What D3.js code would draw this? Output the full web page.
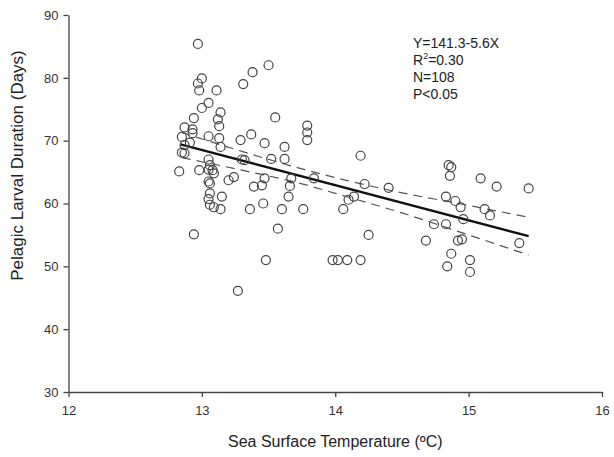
<!DOCTYPE html>
<html lang='en'>
<head>
  <meta charset='UTF-8'>
  <title>Pelagic Larval Duration vs SST</title>
  <style>
  body { margin: 0; background: #fff; }
  svg { display: block; font-family: 'Liberation Sans', Arial, sans-serif; }
  .axis path, .axis line { stroke: #444; stroke-width: 1.3px; }
  .axis text { font-size: 13px; fill: #333; }
  .label { font-size: 16px; fill: #222; }
  .ylabel { font-size: 17px; fill: #222; }
  .stats { font-size: 14px; fill: #222; }
  .dot { fill: none; stroke: #444; stroke-width: 1.2px; }
  .fit { fill: none; stroke: #111; stroke-width: 2.4px; }
  .band { fill: none; stroke: #555; stroke-width: 1.2px; stroke-dasharray: 9 6; }
  </style>
  <script src='https://d3js.org/d3.v7.min.js'></script>
</head>
<body>
  <script>

  // data: sea surface temperature (C) and PLD (days)
  var sst = [
    12.83, 12.85, 12.87, 12.87, 12.91, 12.85, 12.93, 12.87, 12.93, 12.94,
    12.94, 12.97, 12.97, 13.00, 12.98, 13.00, 13.05, 13.11, 13.14, 13.12,
    13.13, 13.05, 13.13, 13.14, 12.98, 13.05, 13.06, 13.05, 13.08, 13.09,
    13.05, 13.06, 13.06, 13.05, 13.15, 13.06, 13.09, 13.14, 13.20, 13.24,
    13.30, 13.32, 13.27, 13.31, 13.38, 13.50, 13.29, 13.37, 13.47, 13.62,
    13.55, 13.79, 13.79, 13.79, 13.52, 13.62, 13.47, 13.45, 13.39, 13.67,
    13.66, 13.84, 13.65, 13.36, 13.46, 13.60, 13.76, 13.57, 13.48, 14.06,
    14.10, 14.14, 14.19, 14.22, 14.40, 14.25, 13.98, 14.02, 14.09, 14.19,
    14.74, 14.68, 14.83, 14.85, 14.87, 14.86, 15.09, 15.21, 15.45, 14.83,
    14.90, 14.94, 14.96, 15.12, 15.16, 14.92, 14.95, 14.87, 15.01, 14.84,
    15.01, 15.38
  ];
  var pld = [
    65.1, 68.1, 68.0, 69.3, 69.7, 70.6, 71.2, 72.1, 71.8, 73.6,
    55.1, 85.4, 79.1, 79.9, 78.0, 75.2, 76.0, 78.0, 74.5, 73.4,
    72.3, 70.7, 70.4, 69.0, 65.3, 67.0, 66.1, 65.4, 65.3, 64.8,
    63.5, 61.6, 63.2, 60.7, 61.1, 59.8, 59.4, 59.1, 63.7, 64.2,
    67.0, 66.9, 46.1, 79.0, 80.9, 82.0, 70.1, 71.0, 69.6, 69.0,
    73.7, 72.4, 71.3, 70.1, 67.1, 67.1, 64.0, 62.9, 62.7, 64.0,
    62.8, 64.0, 61.1, 59.1, 60.0, 59.1, 59.1, 56.0, 51.0, 59.1,
    60.6, 61.1, 67.6, 63.1, 62.5, 55.0, 51.0, 51.0, 51.0, 51.0,
    56.7, 54.1, 56.7, 66.1, 65.8, 64.4, 64.0, 62.7, 62.4, 61.1,
    60.4, 59.4, 57.5, 59.1, 58.1, 54.1, 54.3, 52.0, 51.0, 50.0,
    49.1, 53.7
  ];

  // regression line ends and 95% confidence band
  var fitX = [12.84, 15.45];
  var fitY = [69.4, 54.8];
  var bandX = [12.85, 13.3, 13.7, 14.1, 14.5, 14.9, 15.45];
  var bandUpper = [71.3, 68.3, 65.8, 63.6, 61.7, 60.1, 57.8];
  var bandLower = [67.3, 65.3, 63.4, 61.0, 58.5, 55.7, 51.8];

  var xTicks = [12, 13, 14, 15, 16];
  var yTicks = [30, 40, 50, 60, 70, 80, 90];
  var statsLines = ['Y=141.3-5.6X', 'R2=0.30', 'N=108', 'P<0.05'];

  var svgWidth = 614;
  var svgHeight = 457;
  var margin = { top: 15, right: 12, bottom: 65, left: 68.5 };
  var width = svgWidth - margin.left - margin.right;
  var height = svgHeight - margin.top - margin.bottom;

  var svg = d3.select('body').append('svg')
    .attr('width', svgWidth)
    .attr('height', svgHeight);

  var g = svg.append('g').attr('transform', 'translate(' + margin.left + ',' + margin.top + ')');

  var x = d3.scaleLinear().domain([12, 16]).range([0, width]);
  var y = d3.scaleLinear().domain([30, 90]).range([height, 0]);

  // axes

  g.append('g')
    .attr('class', 'axis')
    .attr('transform', 'translate(0,' + height + ')')
    .call(d3.axisBottom(x).tickValues(xTicks).tickFormat(d3.format('d'))
      .tickSize(5).tickSizeOuter(0).tickPadding(6))
    .selectAll('text').attr('dy', '0.9em');

  g.append('g')
    .attr('class', 'axis')
    .call(d3.axisLeft(y).tickValues(yTicks).tickFormat(d3.format('d'))
      .tickSize(5).tickSizeOuter(0).tickPadding(5));

  // confidence band

  var bandLine = function (vals) {
    return d3.line()
      .x(function (d) { return x(d); })
      .y(function (d, i) { return y(vals[i]); })
      .curve(d3.curveMonotoneX)(bandX);
  };

  g.append('path').attr('class', 'band').attr('d', bandLine(bandUpper));
  g.append('path').attr('class', 'band').attr('d', bandLine(bandLower));

  // regression line

  g.append('path')
    .attr('class', 'fit')
    .attr('d', d3.line()
      .x(function (d) { return x(d); })
      .y(function (d, i) { return y(fitY[i]); })(fitX));

  // points

  g.selectAll('.dot')
    .data(sst)
    .enter()
    .append('circle')
    .attr('class', 'dot')
    .attr('cx', function (d) { return x(d); })
    .attr('cy', function (d, i) { return y(pld[i]); })
    .attr('r', 4.5);

  // stats box

  var stats = svg.append('text')
    .attr('class', 'stats')
    .attr('x', 413)
    .attr('y', 48);

  statsLines.forEach(function (s, i) {
    var t = stats.append('tspan').attr('x', 413).attr('y', 48 + i * 17);
    if (s.indexOf('R2') === 0) {
      t.text('R');
      t.append('tspan').attr('dy', -6).attr('font-size', '9px').text('2');
      t.append('tspan').attr('dy', 6).text(s.slice(2));
    } else {
      t.text(s);
    }
  });

  // axis labels

  svg.append('text')
    .attr('class', 'label')
    .attr('text-anchor', 'middle')
    .attr('x', margin.left + width / 2)
    .attr('y', 447)
    .text('Sea Surface Temperature (ºC)');

  svg.append('text')
    .attr('class', 'ylabel')
    .attr('text-anchor', 'middle')
    .attr('transform', 'translate(23,' + (margin.top + height / 2 - 38) + ') rotate(-90)')
    .text('Pelagic Larval Duration (Days)');
  </script>
</body>
</html>
